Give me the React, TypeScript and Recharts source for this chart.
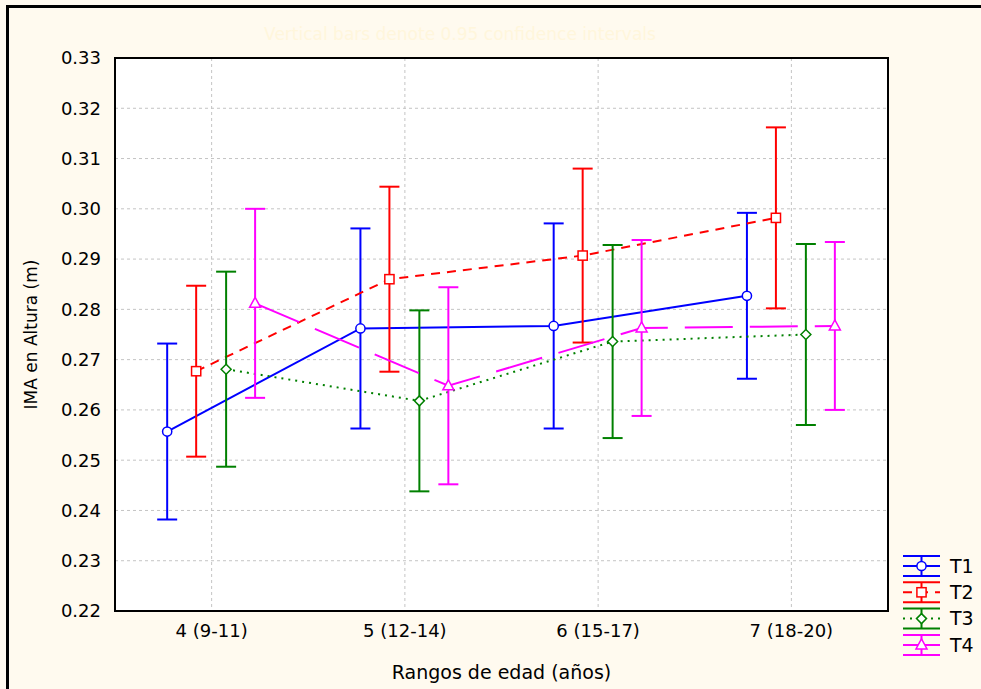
import React from 'react'
import { ComposedChart, Line, XAxis, YAxis, CartesianGrid, ErrorBar, ReferenceArea } from 'recharts'

const categories = ['4 (9-11)', '5 (12-14)', '6 (15-17)', '7 (18-20)']
const yTicks = [0.22, 0.23, 0.24, 0.25, 0.26, 0.27, 0.28, 0.29, 0.30, 0.31, 0.32, 0.33]

const t1Mean = [0.2557, 0.2762, 0.2767, 0.2827]
const t1Err = [0.0175, 0.0199, 0.0204, 0.0165]
const t2Mean = [0.2677, 0.2860, 0.2907, 0.2982]
const t2Err = [0.0170, 0.0184, 0.0173, 0.0180]
const t3Mean = [0.2681, 0.2618, 0.2736, 0.2750]
const t3Err = [0.0194, 0.0180, 0.0192, 0.0180]
const t4Mean = [0.2812, 0.2648, 0.2763, 0.2767]
const t4Err = [0.0188, 0.0196, 0.0175, 0.0167]

const series = [
  { name: 'T1', mean: t1Mean, err: t1Err, color: '#0000ff', dash: undefined, shape: 'circle', offset: -0.23 },
  { name: 'T2', mean: t2Mean, err: t2Err, color: '#ff0000', dash: '9 7', shape: 'square', offset: -0.08 },
  { name: 'T3', mean: t3Mean, err: t3Err, color: '#008000', dash: '2 5', shape: 'diamond', offset: 0.075 },
  { name: 'T4', mean: t4Mean, err: t4Err, color: '#ff00ff', dash: '48 17', shape: 'triangle', offset: 0.225 },
]

const FONT = 'DejaVu Sans'

function Marker({ cx, cy, shape, color }: any) {
  if (cx == null || cy == null) return null
  const common = { fill: '#fff', stroke: color, strokeWidth: 1.5 }
  if (shape === 'circle') return <circle cx={cx} cy={cy} r={4.6} {...common} />
  if (shape === 'square') return <rect x={cx - 4.6} y={cy - 4.6} width={9.2} height={9.2} {...common} />
  if (shape === 'diamond')
    return <polygon points={`${cx},${cy - 5} ${cx + 5},${cy} ${cx},${cy + 5} ${cx - 5},${cy}`} {...common} />
  return <polygon points={`${cx},${cy - 6} ${cx + 5.5},${cy + 4} ${cx - 5.5},${cy + 4}`} {...common} />
}

function LegendBox() {
  return (
    <g>
      {series.map((s, i) => {
        const top = 556 + i * 26.3
        const mid = top + 10
        const bot = top + 20
        return (
          <g key={s.name}>
            <line x1={903} x2={940} y1={top} y2={top} stroke={s.color} strokeWidth={2} />
            <line x1={903} x2={940} y1={bot} y2={bot} stroke={s.color} strokeWidth={2} />
            <line x1={921.5} x2={921.5} y1={top} y2={bot} stroke={s.color} strokeWidth={2} />
            <line x1={903} x2={940} y1={mid} y2={mid} stroke={s.color} strokeWidth={2}
              strokeDasharray={s.dash === '48 17' ? undefined : s.dash} />
            <Marker cx={921.5} cy={mid} shape={s.shape} color={s.color} />
            <text x={950} y={mid} dy="0.36em" fontFamily={FONT} fontSize={19} fill="#000">{s.name}</text>
          </g>
        )
      })}
    </g>
  )
}

export default function App() {
  return (
    <div style={{ position: 'absolute', left: 0, top: 0, width: 981, height: 689, background: '#fffaef', overflow: 'hidden' }}>
      <div style={{ position: 'absolute', left: 6, top: 5, width: 1000, height: 700, borderLeft: '3px solid #000', borderTop: '3px solid #000' }} />
      <div style={{ position: 'absolute', left: 0, top: 0 }}>
        <ComposedChart width={981} height={689} margin={{ top: 58, right: 93, bottom: 0, left: 0 }} style={{ fontFamily: FONT }}>
          <CartesianGrid stroke="#c4c4c4" strokeDasharray="3 3" fill="#ffffff" />
          <XAxis
            dataKey="x"
            type="number"
            domain={[0.5, 4.5]}
            ticks={[1, 2, 3, 4]}
            interval={0}
            allowDataOverflow
            tickFormatter={(v: number) => categories[v - 1]}
            height={78}
            tickSize={0}
            tickMargin={13}
            tickLine={false}
            axisLine={false}
            tick={{ fill: '#000', fontSize: 18, fontFamily: FONT }}
            label={{ value: 'Rangos de edad (años)', position: 'insideBottom', offset: 10, fill: '#000', fontSize: 19, fontFamily: FONT }}
          />
          <YAxis
            type="number"
            domain={[0.22, 0.33]}
            ticks={yTicks}
            interval={0}
            allowDataOverflow
            width={115}
            tickSize={0}
            tickMargin={14}
            tickLine={false}
            axisLine={false}
            tickFormatter={(v: number) => v.toFixed(2)}
            tick={{ fill: '#000', fontSize: 18, fontFamily: FONT }}
            label={{ value: 'IMA en Altura (m)', angle: -90, position: 'insideLeft', offset: 31, fill: '#000', fontSize: 17, fontFamily: FONT, style: { textAnchor: 'middle' } }}
          />
          <ReferenceArea x1={0.5} x2={4.5} y1={0.22} y2={0.33} fill="none" stroke="#000" strokeWidth={2} ifOverflow="visible" />
          {series.map((s) => (
            <Line
              key={s.name}
              name={s.name}
              data={categories.map((c, i) => ({ cat: c, x: i + 1 + s.offset, y: s.mean[i], err: s.err[i] }))}
              dataKey="y"
              type="linear"
              stroke={s.color}
              strokeWidth={2}
              strokeDasharray={s.dash}
              isAnimationActive={false}
              activeDot={false}
              dot={(p: any) => <Marker key={`${s.name}-${p.index}`} cx={p.cx} cy={p.cy} shape={s.shape} color={s.color} />}
            >
              <ErrorBar dataKey="err" direction="y" width={10} stroke={s.color} strokeWidth={2} isAnimationActive={false} />
            </Line>
          ))}
        </ComposedChart>
      </div>
      <svg width={981} height={689} style={{ position: 'absolute', left: 0, top: 0, pointerEvents: 'none' }}>
        <text x={460} y={34} dy="0.36em" textAnchor="middle" fontFamily={FONT} fontSize={17} fill="#fff6dc">
          Vertical bars denote 0.95 confidence intervals
        </text>
        <LegendBox />
      </svg>
    </div>
  )
}
